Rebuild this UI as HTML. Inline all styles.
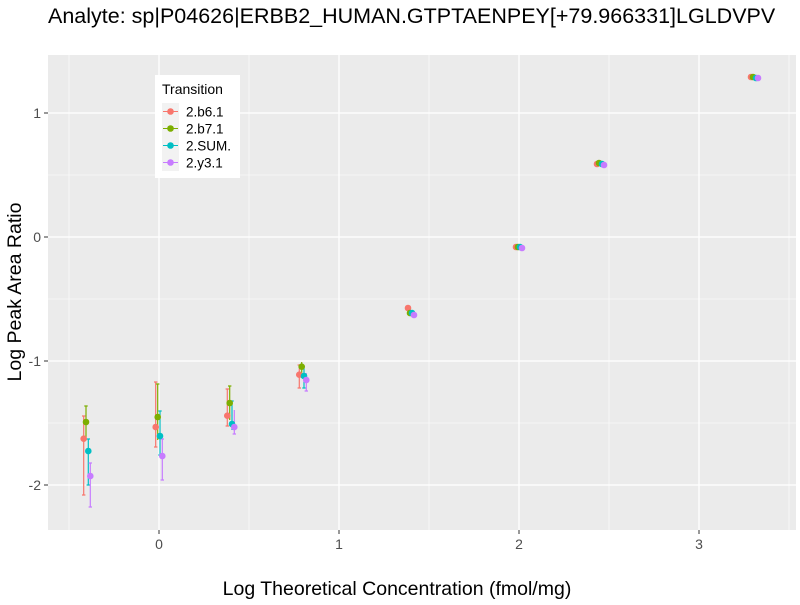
<!DOCTYPE html><html><head><style>body{margin:0;background:#fff}svg{font-family:"Liberation Sans",sans-serif}</style></head><body>
<svg width="800" height="600" xmlns="http://www.w3.org/2000/svg">
<rect width="800" height="600" fill="#fff"/>
<text x="48" y="23" font-size="21.5" fill="#000">Analyte: sp|P04626|ERBB2_HUMAN.GTPTAENPEY[+79.966331]LGLDVPV</text>
<rect x="48" y="55" width="748" height="475" fill="#ebebeb"/>
<g stroke="#fff" stroke-width="0.6">
<line x1="69" y1="55" x2="69" y2="530"/><line x1="249" y1="55" x2="249" y2="530"/><line x1="429" y1="55" x2="429" y2="530"/><line x1="609" y1="55" x2="609" y2="530"/><line x1="789" y1="55" x2="789" y2="530"/>
<line x1="48" y1="175" x2="796" y2="175"/><line x1="48" y1="299" x2="796" y2="299"/><line x1="48" y1="423" x2="796" y2="423"/>
</g>
<g stroke="#fff" stroke-width="1.3">
<line x1="159" y1="55" x2="159" y2="530"/><line x1="339" y1="55" x2="339" y2="530"/><line x1="519" y1="55" x2="519" y2="530"/><line x1="699" y1="55" x2="699" y2="530"/>
<line x1="48" y1="113" x2="796" y2="113"/><line x1="48" y1="237" x2="796" y2="237"/><line x1="48" y1="361" x2="796" y2="361"/><line x1="48" y1="485" x2="796" y2="485"/>
</g>
<g stroke-width="1.2">
<g stroke="#F8766D"><path d="M83.7 416V495M82 416h3.4M82 495h3.4M155.7 382V447M154 382h3.4M154 447h3.4M227.3 389V426M225.6 389h3.4M225.6 426h3.4M299.3 365V388M297.6 365h3.4M297.6 388h3.4"/></g>
<g stroke="#7CAE00"><path d="M86 406V440M84.3 406h3.4M157.7 384V440M156 384h3.4M229.7 386V420M228 386h3.4M301.7 362V378"/></g>
<g stroke="#00BFC4"><path d="M88.3 439V485M86.6 439h3.4M86.6 485h3.4M160 411V455M158.3 411h3.4M158.3 455h3.4M232 401V430M230.3 401h3.4M304 366V388M302.3 388h3.4"/></g>
<g stroke="#C77CFF"><path d="M90.3 463V507M88.6 463h3.4M88.6 507h3.4M162.3 439V480M160.6 439h3.4M160.6 480h3.4M234.3 410V434M232.6 434h3.4M306.3 373V391M304.6 391h3.4"/></g>
</g>
<g fill="#F8766D"><circle cx="83.7" cy="438.7" r="3.3"/><circle cx="155.7" cy="427" r="3.3"/><circle cx="227.3" cy="415.7" r="3.3"/><circle cx="299.3" cy="374.7" r="3.3"/><circle cx="408" cy="308" r="3.3"/><circle cx="516" cy="247" r="3.3"/><circle cx="597" cy="164" r="3.3"/><circle cx="751" cy="77" r="3.3"/></g>
<g fill="#7CAE00"><circle cx="86" cy="422" r="3.3"/><circle cx="157.7" cy="417" r="3.3"/><circle cx="229.7" cy="403" r="3.3"/><circle cx="301.7" cy="366.7" r="3.3"/><circle cx="410" cy="313" r="3.3"/><circle cx="518" cy="247" r="3.3"/><circle cx="599" cy="163" r="3.3"/><circle cx="753" cy="77" r="3.3"/></g>
<g fill="#00BFC4"><circle cx="88.3" cy="451" r="3.3"/><circle cx="160" cy="436" r="3.3"/><circle cx="232" cy="424" r="3.3"/><circle cx="304" cy="376" r="3.3"/><circle cx="412" cy="313" r="3.3"/><circle cx="520" cy="247" r="3.3"/><circle cx="602" cy="164" r="3.3"/><circle cx="756" cy="78" r="3.3"/></g>
<g fill="#C77CFF"><circle cx="90.3" cy="476" r="3.3"/><circle cx="162.3" cy="456" r="3.3"/><circle cx="234.3" cy="427" r="3.3"/><circle cx="306.3" cy="380" r="3.3"/><circle cx="414" cy="315" r="3.3"/><circle cx="522" cy="248" r="3.3"/><circle cx="604" cy="165" r="3.3"/><circle cx="758" cy="78" r="3.3"/></g>
<g stroke="#333" stroke-width="1"><path d="M44 113h4M44 237h4M44 361h4M44 485h4M159 530v4M339 530v4M519 530v4M699 530v4"/></g>
<g font-size="14" fill="#4d4d4d" text-anchor="end"><text x="41" y="118">1</text><text x="41" y="242">0</text><text x="41" y="366">-1</text><text x="41" y="490">-2</text></g>
<g font-size="14" fill="#4d4d4d" text-anchor="middle"><text x="159" y="549">0</text><text x="339" y="549">1</text><text x="519" y="549">2</text><text x="699" y="549">3</text></g>
<text x="397" y="595" font-size="19.5" text-anchor="middle">Log Theoretical Concentration (fmol/mg)</text>
<text transform="translate(21 292) rotate(-90)" font-size="19.5" text-anchor="middle">Log Peak Area Ratio</text>
<rect x="155" y="75" width="85" height="103" fill="#fff"/>
<text x="162" y="94" font-size="14" fill="#000">Transition</text>
<g font-size="13.5" fill="#000">
<rect x="162" y="103" width="17" height="17" fill="#f2f2f2"/><line x1="163" y1="111.5" x2="178" y2="111.5" stroke="#F8766D"/><circle cx="170.5" cy="111.5" r="3.3" fill="#F8766D"/><text x="186" y="116.5">2.b6.1</text>
<rect x="162" y="120" width="17" height="17" fill="#f2f2f2"/><line x1="163" y1="128.5" x2="178" y2="128.5" stroke="#7CAE00"/><circle cx="170.5" cy="128.5" r="3.3" fill="#7CAE00"/><text x="186" y="133.5">2.b7.1</text>
<rect x="162" y="137" width="17" height="17" fill="#f2f2f2"/><line x1="163" y1="145.5" x2="178" y2="145.5" stroke="#00BFC4"/><circle cx="170.5" cy="145.5" r="3.3" fill="#00BFC4"/><text x="186" y="150.5">2.SUM.</text>
<rect x="162" y="154" width="17" height="17" fill="#f2f2f2"/><line x1="163" y1="162.5" x2="178" y2="162.5" stroke="#C77CFF"/><circle cx="170.5" cy="162.5" r="3.3" fill="#C77CFF"/><text x="186" y="167.5">2.y3.1</text>
</g>
</svg>
</body></html>
